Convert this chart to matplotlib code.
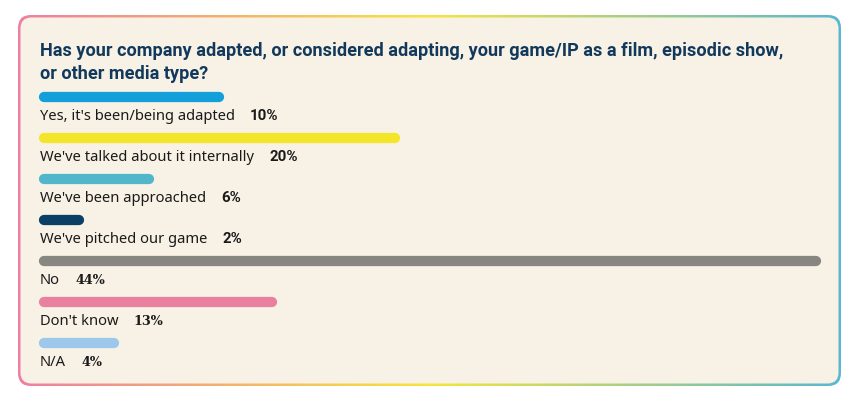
import numpy as np
import matplotlib
matplotlib.use("Agg")
import matplotlib.pyplot as plt
from matplotlib.patches import FancyBboxPatch
from matplotlib.colors import LinearSegmentedColormap

labels = [
    "Yes, it's been/being adapted",
    "We've talked about it internally",
    "We've been approached",
    "We've pitched our game",
    "No",
    "Don't know",
    "N/A",
]
values = [10, 20, 6, 2, 44, 13, 4]
colors = ["#139FDA", "#F3E62A", "#52B6CA", "#0B3F66", "#878680", "#E9809F", "#9DC8EC"]
title = ("Has your company adapted, or considered adapting, your game/IP as a film, episodic show,\n"
         "or other media type?")

W, H = 859, 401
BG = "#F8F2E6"
NAVY = "#12395B"

fig = plt.figure(figsize=(W / 100, H / 100), dpi=100)
fig.patch.set_facecolor("white")

# background axes in pixel coordinates for the card
bg = fig.add_axes([0, 0, 1, 1])
bg.set_xlim(0, W)
bg.set_ylim(H, 0)
bg.axis("off")

x0, y0, x1, y1 = 18, 15, 841, 386
outer = FancyBboxPatch((x0, y0), x1 - x0, y1 - y0,
                       boxstyle="round,pad=0,rounding_size=13",
                       facecolor="none", edgecolor="none")
bg.add_patch(outer)
cmap = LinearSegmentedColormap.from_list("border", ["#EE7FA2", "#F6E53C", "#58B8D0"])
grad = np.linspace(0, 1, 256).reshape(1, -1)
im = bg.imshow(grad, cmap=cmap, extent=(x0, x1, y1, y0), aspect="auto", zorder=1)
im.set_clip_path(outer)
bw = 2.5
inner = FancyBboxPatch((x0 + bw, y0 + bw), x1 - x0 - 2 * bw, y1 - y0 - 2 * bw,
                       boxstyle="round,pad=0,rounding_size=11",
                       facecolor=BG, edgecolor="none", zorder=2)
bg.add_patch(inner)

bg.text(40, 62.5, title, fontsize=13.1, fontweight="bold", color=NAVY,
        family="Roboto", va="center", ha="left", linespacing=1.33, zorder=3)

# bars axes
cap = 5
left_px, right_px = 39 + cap, 821 - cap
top_px, bot_px = 97, 97 + 41 * 6
ax = fig.add_axes([left_px / W, 1 - bot_px / H, (right_px - left_px) / W, (bot_px - top_px) / H])
ax.set_xlim(0, max(values))
ax.set_ylim(len(values) - 1, 0)
ax.axis("off")
ax.patch.set_alpha(0)

for i, (lab, v, c) in enumerate(zip(labels, values, colors)):
    ax.plot([0, v], [i, i], color=c, lw=7.4, solid_capstyle="round", zorder=4,
            clip_on=False)
    t = ax.annotate(lab, xy=(0, i), xytext=(-3, -14), textcoords="offset points",
                    fontsize=10.6, color="#1A1A1A", family="Noto Sans",
                    ha="left", va="center", annotation_clip=False)
    ax.annotate(f"{v}%", xy=(1, 0.5), xycoords=t, xytext=(11, 0),
                textcoords="offset points",
                fontsize=10.8 if i < 4 else 9.2, fontweight="bold",
                color="#1A1A1A", family="Roboto" if i < 4 else "DejaVu Serif",
                ha="left", va="center")

fig.savefig("out.png", dpi=100, facecolor=fig.get_facecolor())
